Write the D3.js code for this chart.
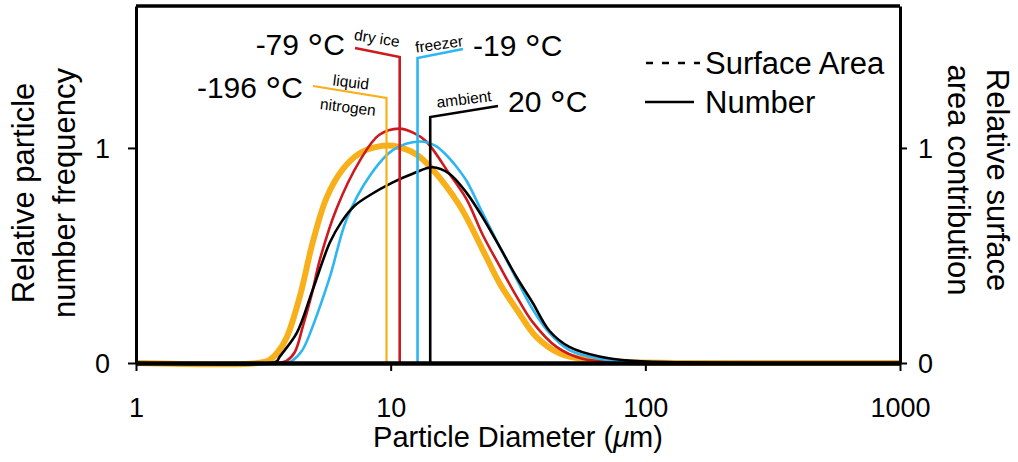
<!DOCTYPE html>
<html>
<head>
<meta charset="utf-8">
<script src="https://cdn.jsdelivr.net/npm/d3@7"></script>
<style>
  html, body { margin: 0; padding: 0; background: #fff; }
  svg { display: block; font-family: "Liberation Sans", Arial, Helvetica, sans-serif; }
</style>
</head>
<body>
<svg id="chart" width="1018" height="462"></svg>
<script>
// Particle size distributions (relative number frequency) by freezing temperature.
// Each point is [diameter in µm, relative frequency].
const liquidNitrogen = [[1,0],[3.0,0],[3.35,0.015],[3.6,0.05],[3.91,0.12],[4.4,0.31],[4.94,0.56],[5.61,0.77],[6.48,0.90],[7.56,0.975],[8.8,1.005],[10.2,1.01],[12.6,0.97],[14.6,0.90],[18.7,0.73],[22.9,0.53],[26.8,0.37],[31.2,0.25],[37.4,0.12],[46,0.045],[60,0.014],[89,0.003],[150,0],[1000,0]];
const dryIce = [[1,0],[3.6,0],[3.9,0.01],[4.2,0.05],[4.52,0.17],[4.9,0.32],[5.27,0.48],[6.14,0.72],[7.56,0.94],[9.0,1.06],[10.8,1.09],[12.3,1.07],[13.8,1.03],[17,0.88],[19.9,0.76],[22.9,0.60],[26.8,0.45],[31.2,0.31],[36.1,0.19],[44.8,0.075],[56.6,0.02],[79,0.005],[150,0],[1000,0]];
const freezer = [[1,0],[3.9,0],[4.1,0.01],[4.5,0.06],[4.94,0.17],[5.77,0.40],[6.72,0.67],[8.27,0.87],[10.2,0.99],[13.0,1.03],[15.0,1.01],[16.6,0.965],[18.2,0.91],[19.9,0.845],[22.9,0.70],[26.8,0.54],[31.2,0.39],[36.1,0.25],[42,0.14],[50.3,0.06],[66,0.02],[95,0.004],[150,0],[1000,0]];
const ambient = [[1,0],[3.4,0],[3.57,0.008],[3.67,0.03],[4.28,0.14],[4.94,0.34],[5.77,0.56],[6.4,0.655],[7.2,0.73],[8.27,0.78],[10.2,0.84],[12.2,0.88],[14.6,0.91],[17.0,0.88],[19.9,0.79],[22.9,0.68],[26.8,0.54],[31.2,0.40],[36.1,0.28],[42,0.15],[50.3,0.075],[66,0.03],[89,0.01],[163,0.002],[300,0],[1000,0]];

// Median diameters (µm) marked by vertical lines
const medianDiameters = [9.63, 10.85, 12.75, 14.3];
const temperatureValues = ["-196", "-79", "-19", "20"];
const conditionLabels = [["liquid", "nitrogen"], ["dry ice"], ["freezer"], ["ambient"]];
const seriesColors = ["#f8b01a", "#cc1a1f", "#2db6f0", "#000000"];

const xTicks = [1, 10, 100, 1000];
const yTicks = [0, 1];
const legendLabels = ["Surface Area", "Number"];

const svg = d3.select("#chart");
const x = d3.scaleLog().domain([1, 1000]).range([136, 900]);
const y = d3.scaleLinear().domain([0, 1.66]).range([363, 6]);

// Top frame line
svg.append("line").attr("x1", 136).attr("x2", 900).attr("y1", 6).attr("y2", 6)
  .attr("stroke", "#000").attr("stroke-width", 3.5);

// Curves
const line = d3.line().x(d => x(d[0])).y(d => Math.min(y(d[1]), y(0)))
  .curve(d3.curveCatmullRom.alpha(0.5));
const series = [liquidNitrogen, dryIce, freezer, ambient];
const widths = [6, 2.6, 2.6, 2.6];
series.forEach((s, i) => {
  svg.append("path").datum(s).attr("d", line)
    .attr("fill", "none").attr("stroke", seriesColors[i])
    .attr("stroke-width", widths[i]).attr("stroke-linejoin", "round");
});

// Median markers with elbow leader lines
const elbowY = [98, 57, 58, 117];
const leaderEnd = [[313, 86], [355, 48], [463, 49], [498, 106]];
medianDiameters.forEach((m, i) => {
  const mx = x(m);
  svg.append("polyline")
    .attr("points", [[mx, y(0)], [mx, elbowY[i]], leaderEnd[i]].map(p => p.join(",")).join(" "))
    .attr("fill", "none").attr("stroke", seriesColors[i])
    .attr("stroke-width", i === 0 ? 2.2 : 2.6);
});

// Axes
const fs = 27;
const bottom = svg.append("g").attr("transform", `translate(0,${y(0)})`)
  .call(d3.axisBottom(x).tickValues(xTicks).tickFormat(d3.format("d")).tickSize(8).tickSizeOuter(0).tickPadding(27));
const left = svg.append("g").attr("transform", `translate(${x(1)},0)`)
  .call(d3.axisLeft(y).tickValues(yTicks).tickFormat(d3.format("d")).tickSize(8).tickSizeOuter(0).tickPadding(18));
const right = svg.append("g").attr("transform", `translate(${x(1000)},0)`)
  .call(d3.axisRight(y).tickValues(yTicks).tickFormat(d3.format("d")).tickSize(7).tickSizeOuter(0).tickPadding(11));

[bottom, left, right].forEach(g => {
  g.selectAll("text").attr("font-size", fs).attr("fill", "#000")
    .style("font-family", "'Liberation Sans', Arial, sans-serif");
  g.selectAll(".tick line").attr("stroke", "#000").attr("stroke-width", 2);
});
left.select(".domain").attr("stroke", "#000").attr("stroke-width", 3);
right.select(".domain").attr("stroke", "#000").attr("stroke-width", 3);
bottom.select(".domain").attr("stroke", "#000").attr("stroke-width", 4.5);
left.selectAll(".tick text").attr("dy", "0.36em");
right.selectAll(".tick text").attr("dy", "0.36em");

// Axis titles
const title = svg.append("text").attr("x", 518).attr("y", 447)
  .attr("text-anchor", "middle").attr("font-size", 29);
title.append("tspan").text("Particle Diameter (");
title.append("tspan").attr("font-style", "italic").text("μ");
title.append("tspan").text("m)");

const leftTitle = ["Relative particle", "number frequency"];
leftTitle.forEach((t, i) => {
  svg.append("text").attr("transform", `translate(${34 + i * 41},193) rotate(-90)`)
    .attr("text-anchor", "middle").attr("font-size", 31).text(t);
});
const rightTitle = ["Relative surface", "area contribution"];
rightTitle.forEach((t, i) => {
  svg.append("text").attr("transform", `translate(${987 - i * 39},180) rotate(90)`)
    .attr("text-anchor", "middle").attr("font-size", 31).text(t);
});

// Temperature labels, with an enlarged degree sign
const tempPos = [[303, 98, "end"], [345, 55, "end"], [473, 56, "start"], [508, 112, "start"]];
temperatureValues.forEach((t, i) => {
  const txt = svg.append("text").attr("x", tempPos[i][0]).attr("y", tempPos[i][1])
    .attr("text-anchor", tempPos[i][2]).attr("font-size", 30);
  txt.append("tspan").text(t + " ");
  txt.append("tspan").attr("font-size", 40).attr("dy", 7).text("°");
  txt.append("tspan").attr("dy", -7).text("C");
});

// Condition labels along the leader lines
const condPos = [[[351, 82, 7], [348, 107, 7]], [[377, 38, 9]], [[439, 44, -8]], [[464, 99, -7]]];
conditionLabels.forEach((lines, i) => {
  lines.forEach((t, j) => {
    const p = condPos[i][j];
    svg.append("text").attr("transform", `translate(${p[0]},${p[1]}) rotate(${p[2]})`)
      .attr("text-anchor", "middle").attr("dominant-baseline", "central")
      .attr("font-size", 15.5).text(t);
  });
});

// Legend
const legend = svg.append("g");
legend.append("line").attr("x1", 646).attr("x2", 700).attr("y1", 63).attr("y2", 63)
  .attr("stroke", "#000").attr("stroke-width", 2.5).attr("stroke-dasharray", "7,9");
legend.append("line").attr("x1", 645).attr("x2", 694).attr("y1", 102).attr("y2", 102)
  .attr("stroke", "#000").attr("stroke-width", 2.5);
legend.append("text").attr("x", 705).attr("y", 74).attr("font-size", 31).text(legendLabels[0]);
legend.append("text").attr("x", 705).attr("y", 113).attr("font-size", 31).text(legendLabels[1]);
</script>
</body>
</html>
